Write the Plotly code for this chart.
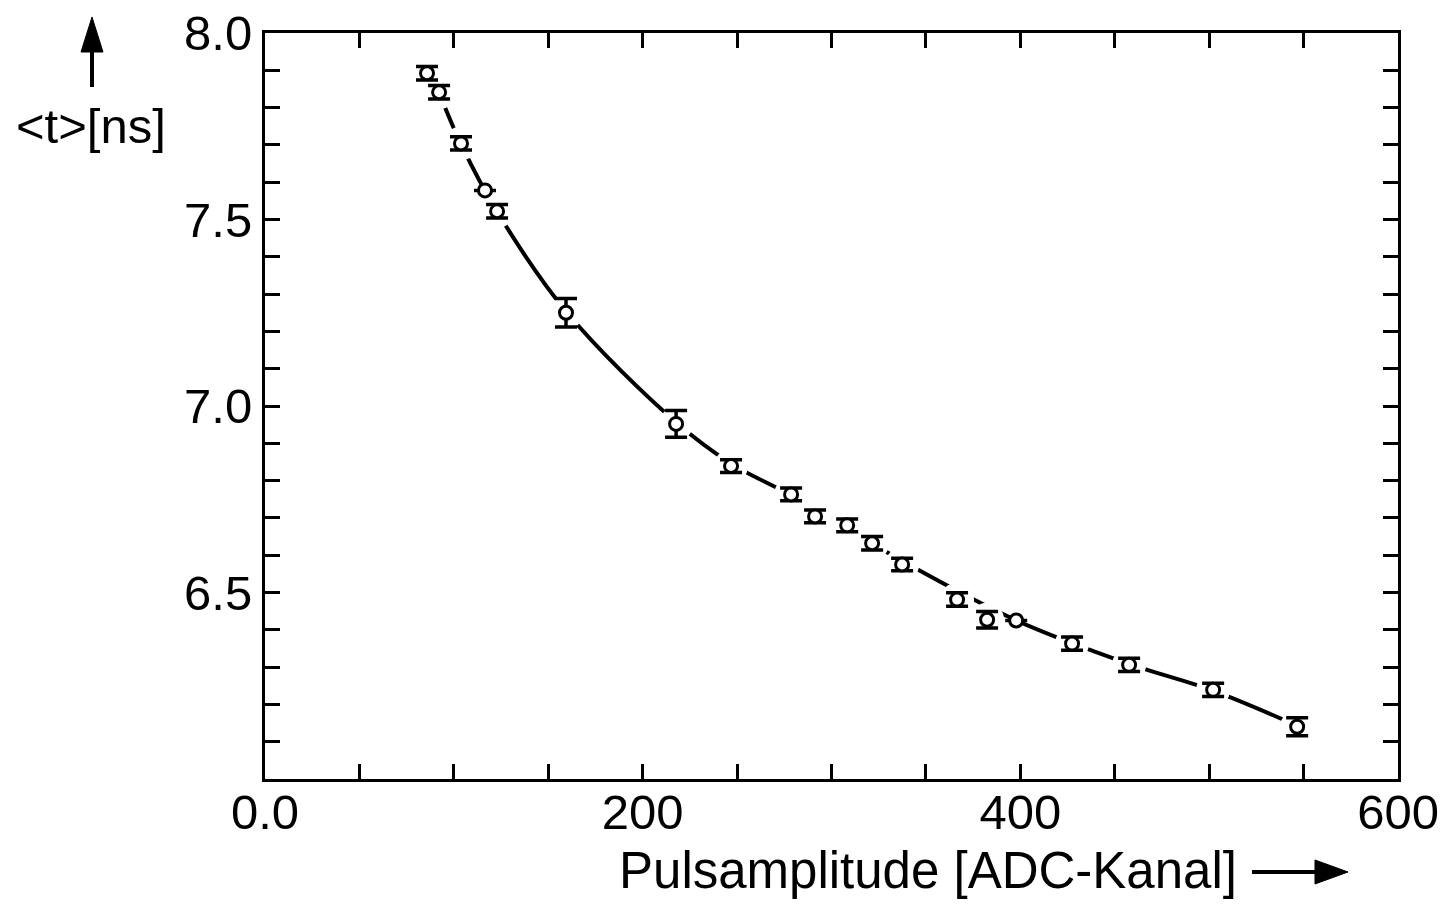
import plotly.graph_objects as go

# Measured data points (Pulsamplitude [ADC-Kanal], <t> [ns], error [ns])
amp = [85.8, 92.2, 103.8, 116.5, 122.9, 159.4, 217.7, 246.8, 278.6, 291.3,
       308.3, 321.5, 337.4, 366.5, 382.4, 397.8, 427.4, 457.6, 502.1, 546.6]
t_mean = [7.892, 7.841, 7.704, 7.578, 7.522, 7.250, 6.952, 6.839, 6.763, 6.704,
          6.680, 6.632, 6.575, 6.481, 6.427, 6.425, 6.363, 6.306, 6.239, 6.140]
t_err = [0.018, 0.018, 0.018, 0.0, 0.018, 0.038, 0.036, 0.017, 0.017, 0.017,
         0.017, 0.018, 0.017, 0.018, 0.022, 0.0, 0.018, 0.018, 0.018, 0.024]

# Fit curve
fit_amp = [93, 104, 123, 160, 218, 247, 280, 338, 398, 458, 502, 547]
fit_t = [7.83, 7.70, 7.52, 7.25, 6.955, 6.845, 6.757, 6.583, 6.425, 6.308, 6.237, 6.142]

x_tickvals = list(range(0, 601, 50))
x_ticktext = ["0.0" if v == 0 else (str(v) if v in (200, 400, 600) else "") for v in x_tickvals]
y_tickvals = [round(6.0 + 0.1 * i, 1) for i in range(21)]
y_ticktext = [f"{v:.1f}" if v in (6.5, 7.0, 7.5, 8.0) else "" for v in y_tickvals]

FONT = "Liberation Sans, Arial, sans-serif"

fig = go.Figure()

fig.add_trace(go.Scatter(x=fit_amp, y=fit_t, mode="lines",
                         line=dict(color="black", width=4, shape="spline", smoothing=1.0),
                         hoverinfo="skip", showlegend=False))

halo_x = [a for a, e in zip(amp, t_err) if e > 0 and a > 90]
halo_y = [t for a, t, e in zip(amp, t_mean, t_err) if e > 0 and a > 90]
fig.add_trace(go.Scatter(x=halo_x, y=halo_y, mode="markers",
                         marker=dict(color="white", size=34, line=dict(width=0)),
                         hoverinfo="skip", showlegend=False))

fig.add_trace(go.Scatter(
    x=amp, y=t_mean, mode="markers",
    marker=dict(symbol="circle", size=13, color="white", line=dict(color="black", width=3)),
    error_y=dict(type="data", array=t_err, visible=True, color="black", thickness=3.5, width=11),
    showlegend=False))

axis_common = dict(showgrid=False, zeroline=False, showline=True, linecolor="black",
                   linewidth=3, mirror="ticks", ticks="inside", ticklen=15, tickwidth=2.5,
                   tickcolor="black", tickfont=dict(family=FONT, size=49, color="black"),
                   automargin=False, ticklabeloverflow="allow")

fig.update_xaxes(range=[0, 600], tickmode="array", tickvals=x_tickvals, ticktext=x_ticktext,
                 **axis_common)
fig.update_yaxes(range=[6.0, 8.0], tickmode="array", tickvals=y_tickvals, ticktext=y_ticktext,
                 **axis_common)
try:
    fig.update_xaxes(ticklabelstandoff=-12)
except Exception:
    pass
try:
    fig.update_yaxes(ticklabelstandoff=0)
except Exception:
    pass

# Axis arrows (paper coordinates)
up_x, up_tip, up_base, up_tail, up_hw = -0.15269, 1.02145, 0.97453, 0.92761, 0.00971
rt_y, rt_tip, rt_base, rt_tail, rt_hh = -0.12466, 0.95587, 0.92674, 0.87114, 0.01609

shapes = [
    dict(type="line", xref="paper", yref="paper", x0=up_x, x1=up_x, y0=up_tail, y1=up_base + 0.003,
         line=dict(color="black", width=4)),
    dict(type="path", xref="paper", yref="paper",
         path=f"M {up_x - up_hw} {up_base} L {up_x + up_hw} {up_base} L {up_x} {up_tip} Z",
         fillcolor="black", line=dict(color="black", width=1)),
    dict(type="line", xref="paper", yref="paper", x0=rt_tail, x1=rt_base + 0.003, y0=rt_y, y1=rt_y,
         line=dict(color="black", width=4)),
    dict(type="path", xref="paper", yref="paper",
         path=f"M {rt_base} {rt_y - rt_hh} L {rt_base} {rt_y + rt_hh} L {rt_tip} {rt_y} Z",
         fillcolor="black", line=dict(color="black", width=1)),
]

fig.update_layout(
    width=1432, height=897,
    margin=dict(l=257, r=42, t=25, b=126),
    plot_bgcolor="white", paper_bgcolor="white",
    font=dict(family=FONT, color="black"),
    shapes=shapes,
    annotations=[
        dict(text="Pulsamplitude [ADC-Kanal]", xref="paper", yref="paper",
             x=0.585, y=-0.1233, showarrow=False, xanchor="center", yanchor="middle",
             font=dict(family=FONT, size=51, color="black")),
        dict(text="&lt;t&gt;[ns]", xref="paper", yref="paper",
             x=-0.1539, y=0.8753, showarrow=False, xanchor="center", yanchor="middle",
             font=dict(family=FONT, size=49, color="black")),
    ],
)

fig.write_html("out.html")
